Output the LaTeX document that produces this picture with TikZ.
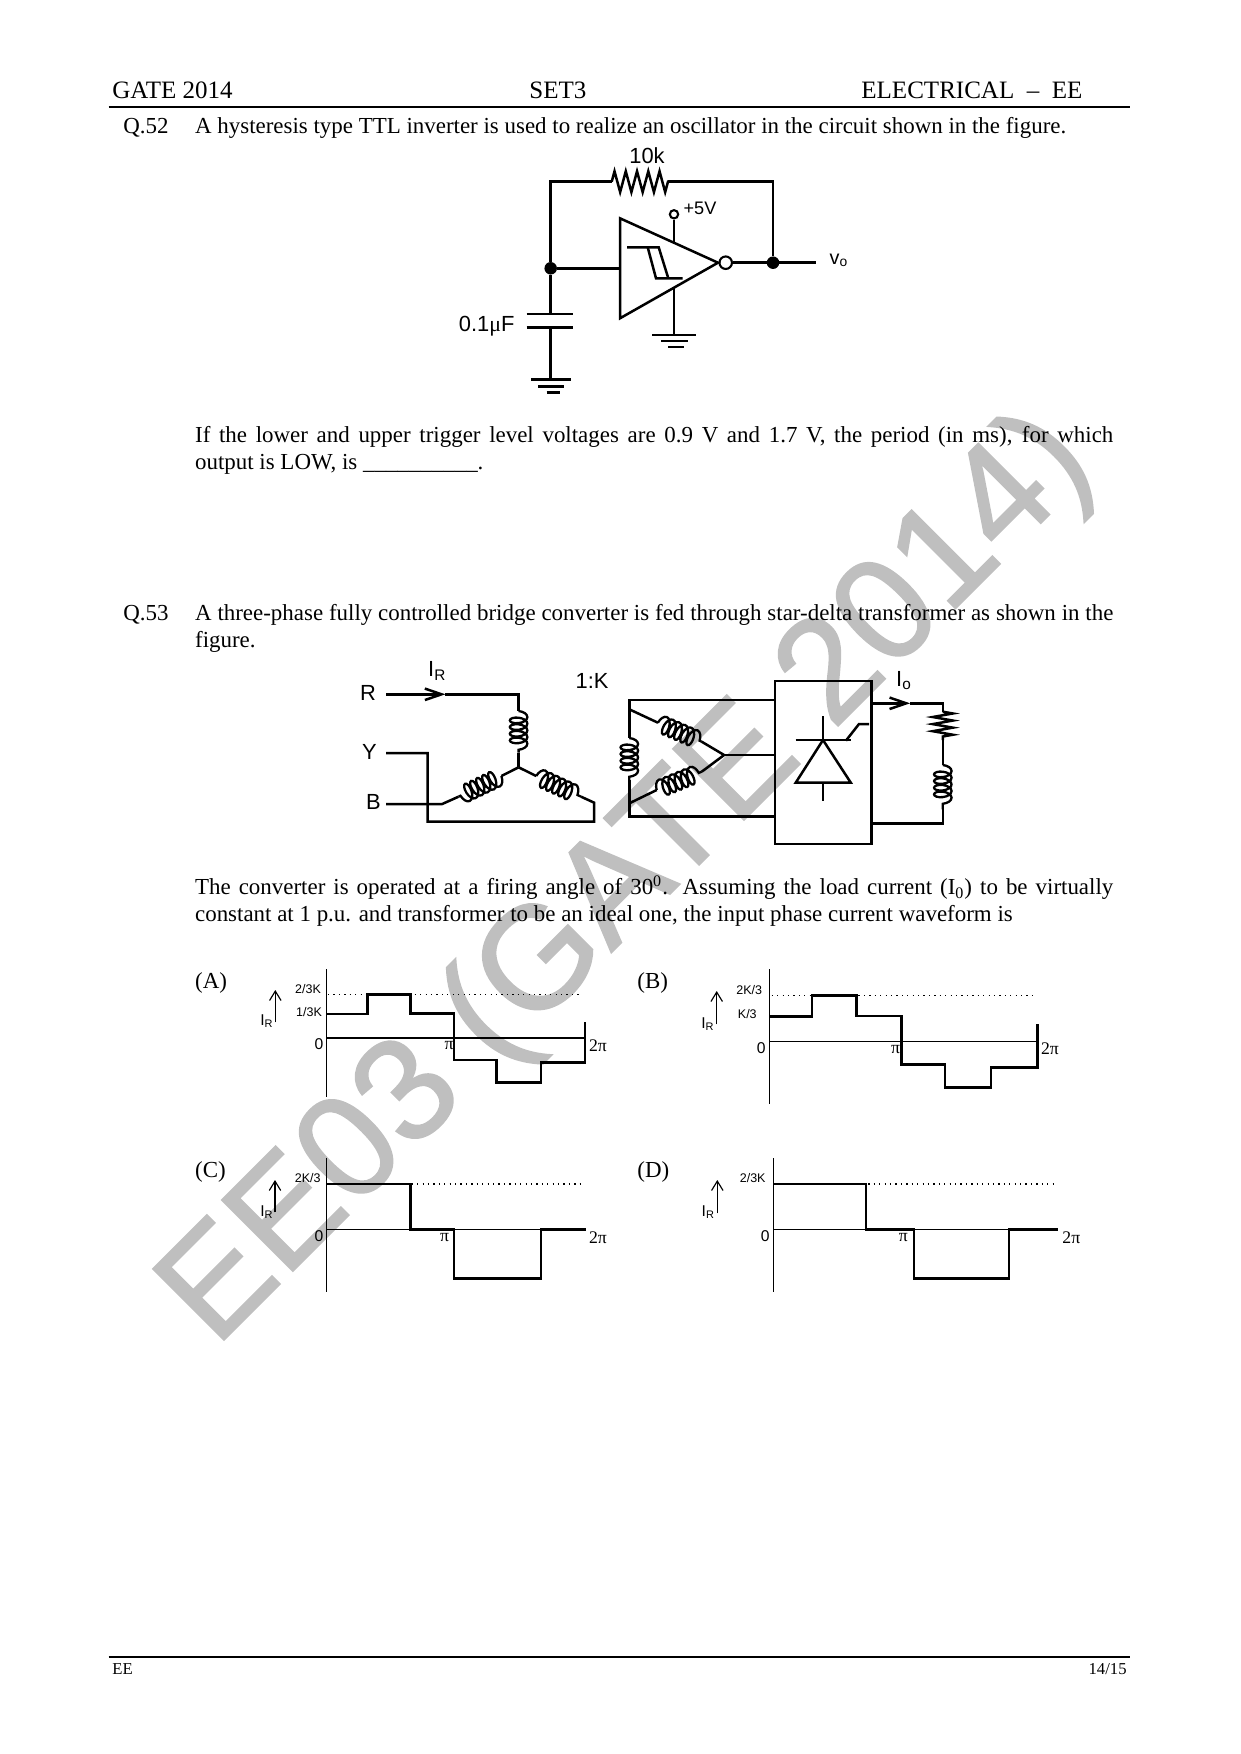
\documentclass[tikz,border=0pt]{standalone}
\usepackage{fontspec}
\setmainfont{Liberation Serif}
\setsansfont{Liberation Sans}
\newfontfamily\markfont[FakeBold=1.2]{Liberation Sans}
\usepackage{tikz}
\usetikzlibrary{arrows.meta, calc, decorations.pathmorphing}
\tikzstyle{wire} = [line width=1.2pt, line join=miter]
\tikzstyle{barb} = [-{Straight Barb[length=4.5pt,width=5.5pt]}]
\tikzstyle{bigbarb} = [-{Straight Barb[length=8pt,width=5.5pt]}]
\tikzstyle{dot} = [circle, fill=black, inner sep=0pt, minimum size=6pt]
\tikzstyle{ring} = [circle, draw, line width=1pt, fill=white, inner sep=0pt, minimum size=6pt]
\tikzstyle{winding} = [line width=1.1pt, decorate, decoration={coil, aspect=0.5, segment length=3.2pt, amplitude=4.2pt}]
\tikzstyle{zigzagr} = [wire, decorate, decoration={zigzag, segment length=5.4pt, amplitude=5pt}]
\tikzstyle{para} = [anchor=north west, inner sep=0pt, text width=440.5pt, align=justify, font=\fontsize{11}{13}\selectfont]
\tikzstyle{line} = [anchor=base west, inner sep=0pt, font=\fontsize{11}{13}\selectfont]
\tikzstyle{head} = [anchor=base west, inner sep=0pt, font=\fontsize{12}{13}\selectfont]
\tikzstyle{lbl} = [inner sep=0pt, font=\sffamily\fontsize{10.5}{12}\selectfont]
\tikzstyle{lblsm} = [inner sep=0pt, font=\sffamily\fontsize{7.5}{9}\selectfont]
\tikzstyle{lvl} = [inner sep=0pt, font=\sffamily\fontsize{6}{7}\selectfont]
\tikzstyle{ang} = [inner sep=0pt, font=\fontsize{8.5}{10}\selectfont]
\tikzstyle{axis} = [line width=0.55pt]
\tikzstyle{wave} = [line width=1.3pt, line join=miter]
\tikzstyle{lim} = [line width=0.6pt, dash pattern=on 0.6pt off 2pt]
\begin{document}
\begin{tikzpicture}[x=0.4797pt, y=-0.4797pt]
    \useasboundingbox (0,0) rectangle (1241,1754);
    \node[rotate=45, text=black!25, inner sep=0pt, font=\markfont\fontsize{70}{80}\selectfont] (mark) at (629.5,881) {EE03 (GATE 2014)};

    % header and footer
    \node[head] (head1) at (112,99) {GATE 2014};
    \node[head] (head2) at (529,99) {SET3};
    \node[head] (head3) at (861,99) {ELECTRICAL\ \ --\ \ EE};
    \draw[line width=0.6pt] (108.5,107) -- (1130,107);
    \draw[line width=0.6pt] (108.5,1657) -- (1130,1657);
    \node[head, font=\fontsize{8}{10}\selectfont] (foot1) at (112,1674.5) {EE};
    \node[head, anchor=base east, font=\fontsize{8}{10}\selectfont] (foot2) at (1127,1674.5) {14/15};

    % question texts
    \node[line] (q52) at (123,133.5) {Q.52};
    \node[line] (q52a) at (194.7,133.5) {A hysteresis type TTL inverter is used to realize an oscillator in the circuit shown in the figure.};
    \node[para] (q52b) at (194.7,425.5) {If the lower and upper trigger level voltages are 0.9 V and 1.7 V, the period (in ms), for which\linebreak output is LOW, is \_\_\_\_\_\_\_\_\_\_.};
    \node[line] (q53) at (123,620.5) {Q.53};
    \node[para] (q53a) at (194.7,604) {A three-phase fully controlled bridge converter is fed through star-delta transformer as shown in the figure.};
    \node[para] (q53b) at (194.7,875.5) {The converter is operated at a firing angle of 30\textsuperscript{0}. Assuming the load current (I\textsubscript{0}) to be virtually constant at 1 p.u. and transformer to be an ideal one, the input phase current waveform is};

    % inverter circuit
    \coordinate (tl) at (550.7,181.7);
    \coordinate (tr) at (773,181.7);
    \coordinate (r1) at (611.7,181.7);
    \coordinate (r2) at (668,181.7);
    \node[dot] (in) at (550.7,268.3) {};
    \node[dot] (out) at (773,262.7) {};
    \coordinate (vo) at (816,262.7);
    \coordinate (ta) at (620,218.3);
    \coordinate (tb) at (620,318.3);
    \coordinate (tc) at (718,262.7);
    \node[ring] (bub) at (725.7,262.7) {};
    \node[ring, minimum size=4pt] (vcc) at (674,214.3) {};
    \draw[wire] (ta) -- (tb) -- (tc) -- cycle;
    \draw[wire] (in) -- (tl) -- (r1);
    \draw[zigzagr] (r1) -- (r2);
    \draw[wire] (r2) -- (tr) -- (out);
    \draw[wire] (in) -- (620,268.3);
    \draw[wire] (bub) -- (vo);
    \draw[wire] (vcc) -- (674,241.7);
    \draw[wire] (674,286.7) -- (674,335);
    \draw[wire] (652,335) -- (696,335);
    \draw[wire] (661,341) -- (688,341);
    \draw[wire] (668,347) -- (684,347);
    \draw[wire] (627,247.3) -- (658.7,247.3) -- (668.3,278.3);
    \draw[wire] (647.7,247.3) -- (656,278.3) -- (682.7,278.3);
    \draw[wire] (in) -- (550.7,314);
    \draw[wire] (526.7,314) -- (572.7,314);
    \draw[wire] (526.7,327.3) -- (572.7,327.3);
    \draw[wire] (550.7,327.3) -- (550.7,379.3);
    \draw[wire] (531,379.3) -- (570.7,379.3);
    \draw[wire] (538.3,386.7) -- (564,386.7);
    \draw[wire] (546.7,392.3) -- (560,392.3);
    \node[lbl] (rlab) at (647,156) {10k};
    \node[lblsm, font=\sffamily\fontsize{8.7}{10}\selectfont] (vcclab) at (700,208.5) {+5V};
    \node[lbl] (clab) at (486.7,326.5) {0.1{\rmfamily μ}F};
    \node[lblsm, font=\sffamily\fontsize{9.5}{10}\selectfont] (volab) at (839,260) {v\textsubscript{o}};

    % star-delta transformer and converter
    \node[lbl] (rlbl) at (368,693.3) {R};
    \node[lbl] (ylbl) at (369.4,752) {Y};
    \node[lbl] (blbl) at (373.5,802) {B};
    \node[lbl] (irlab) at (437.3,671) {I\textsubscript{R}};
    \node[lbl] (ratio) at (592,680.7) {1:K};
    \node[lbl] (iolab) at (904,680.7) {I\textsubscript{o}};
    \coordinate (rin) at (386.2,694.3);
    \coordinate (star) at (518.6,767.3);
    \coordinate (dl) at (629.3,700);
    \coordinate (dm) at (724.1,755);
    \coordinate (db) at (629.3,816.7);
    \node[draw, line width=1.2pt, minimum width=46.1pt, minimum height=78.2pt, inner sep=0pt] (bridge) at (823.2,762.5) {};
    \draw[wire, bigbarb] (rin) -- (445.4,694.3);
    \draw[wire] (445.4,694.3) -- (518.6,694.3) -- (518.6,711);
    \draw[winding] (518.6,711) -- (518.6,752.7);
    \draw[wire] (518.6,752.7) -- (star);
    \draw[wire] (star) -- (501.4,776);
    \draw[winding] (501.4,776) -- (458.5,796.7);
    \draw[wire] (458.5,796.7) -- (442.2,804) -- (386.2,804);
    \draw[wire] (star) -- (536.2,776);
    \draw[winding] (536.2,776) -- (581.1,796.7);
    \draw[wire] (581.1,796.7) -- (594.2,802.7) -- (594.2,821.7) -- (427.5,821.7) -- (427.5,753) -- (386.2,753);
    \draw[wire] (bridge.west |- dl) -- (dl) -- (629.3,738);
    \draw[winding] (629.3,738) -- (629.3,780);
    \draw[wire] (629.3,780) -- (db) -- (bridge.west |- db);
    \draw[wire] (629.3,709.3) -- (657.9,722.7);
    \draw[winding] (657.9,722.7) -- (701.7,741.7);
    \draw[wire] (701.7,741.7) -- (dm);
    \draw[wire] (629.3,803.3) -- (656.7,790);
    \draw[winding] (656.7,790) -- (701.7,771.7);
    \draw[wire] (701.7,771.7) -- (dm);
    \draw[wire] (dm) -- (bridge.west |- dm);
    \draw[wire] (823,716) -- (823,740);
    \draw[wire] (795.7,740) -- (850.8,740);
    \draw[wire] (823,740) -- (795.7,782.7) -- (850.8,782.7) -- cycle;
    \draw[wire] (823,782.7) -- (823,800.7);
    \draw[wire] (845.9,740.7) -- (859,724) -- (869.2,724);
    \draw[wire, bigbarb] (bridge.east |- 0,703.3) -- (910.1,703.3);
    \draw[wire] (910.1,703.3) -- (942.8,703.3) -- (942.8,711.7);
    \draw[zigzagr, decoration={segment length=3.4pt, amplitude=4.8pt}] (942.8,711.7) -- (942.8,740);
    \draw[wire] (942.8,740) -- (942.8,765);
    \draw[winding] (942.8,765) -- (942.8,809.3);
    \draw[wire] (942.8,809.3) -- (942.8,823.3) -- (bridge.east |- 0,823.3);

    % waveform A
    \node[line] (opta) at (194.7,988) {(A)};
    \draw[axis] (326.7,969.3) -- (326.7,1097.3);
    \draw[axis, line width=0.8pt] (326.7,1037.7) -- (585,1037.7);
    \draw[lim] (328,994.3) -- (580,994.3);
    \draw[wave] (326.7,1014) -- (367.3,1014) -- (367.3,994.3) -- (410.7,994.3) -- (410.7,1013.3) -- (454,1013.3) -- (454,1060) -- (496.7,1060) -- (496.7,1082.7) -- (541,1082.7) -- (541,1062.3) -- (585,1062.3) -- (585,1022.3);
    \draw[axis, barb] (275.3,1022.3) -- (275.3,990);
    \node[lblsm] (ira) at (267,1021) {I\textsubscript{R}};
    \node[lvl] (a23) at (308,989) {2/3K};
    \node[lvl] (a13) at (309,1012) {1/3K};
    \node[lblsm] (a0) at (319,1044) {0};
    \node[ang] (api) at (449,1046) {π};
    \node[ang] (a2pi) at (598,1046) {2π};

    % waveform B
    \node[line] (optb) at (637,988) {(B)};
    \draw[axis] (769.3,969.3) -- (769.3,1104);
    \draw[axis] (769.3,1041.3) -- (1037.3,1041.3);
    \draw[lim] (771.7,995.3) -- (1032.3,995.3);
    \draw[wave] (769.3,1016.7) -- (812,1016.7) -- (812,995.3) -- (856.7,995.3) -- (856.7,1016) -- (901.3,1016) -- (901.3,1064.3) -- (945,1064.3) -- (945,1087.3) -- (991,1087.3) -- (991,1067.3) -- (1037.3,1067.3) -- (1037.3,1024.3);
    \draw[axis, barb] (716.7,1024.3) -- (716.7,991);
    \node[lblsm] (irb) at (708,1024) {I\textsubscript{R}};
    \node[lvl] (b23) at (749.3,990) {2K/3};
    \node[lvl] (b13) at (747.3,1014.3) {K/3};
    \node[lblsm] (b0) at (761.3,1047.7) {0};
    \node[ang] (bpi) at (895.7,1050) {π};
    \node[ang] (b2pi) at (1050,1049) {2π};

    % waveform C
    \node[line] (optc) at (194.7,1177) {(C)};
    \draw[axis] (326.7,1158.3) -- (326.7,1291.7);
    \draw[axis] (326.7,1229.3) -- (586,1229.3);
    \draw[lim] (411.7,1184) -- (580,1184);
    \draw[wave] (326.7,1184) -- (410.7,1184) -- (410.7,1229.3) -- (454,1229.3) -- (454,1278.3) -- (541,1278.3) -- (541,1229.3) -- (586,1229.3);
    \draw[axis, barb] (275,1212.3) -- (275,1180);
    \node[lblsm] (irc) at (267,1212.3) {I\textsubscript{R}};
    \node[lvl] (c23) at (307.7,1178.3) {2K/3};
    \node[lblsm] (c0) at (319,1235.7) {0};
    \node[ang] (cpi) at (444.7,1237.7) {π};
    \node[ang] (c2pi) at (598,1237.3) {2π};

    % waveform D
    \node[line] (optd) at (637,1177) {(D)};
    \draw[axis] (773.3,1158.3) -- (773.3,1291.7);
    \draw[axis] (773.3,1229.3) -- (1058.3,1229.3);
    \draw[lim] (868.3,1184) -- (1053.3,1184);
    \draw[wave] (773.3,1184) -- (866,1184) -- (866,1229.3) -- (914,1229.3) -- (914,1278.3) -- (1009,1278.3) -- (1009,1229.3) -- (1058.3,1229.3);
    \draw[axis, barb] (717.3,1213.3) -- (717.3,1180);
    \node[lblsm] (ird) at (708.3,1212.3) {I\textsubscript{R}};
    \node[lvl] (d23) at (752.7,1178.3) {2/3K};
    \node[lblsm] (d0) at (765.3,1235.7) {0};
    \node[ang] (dpi) at (903.3,1237.7) {π};
    \node[ang] (d2pi) at (1071.3,1237.3) {2π};
\end{tikzpicture}
\end{document}
